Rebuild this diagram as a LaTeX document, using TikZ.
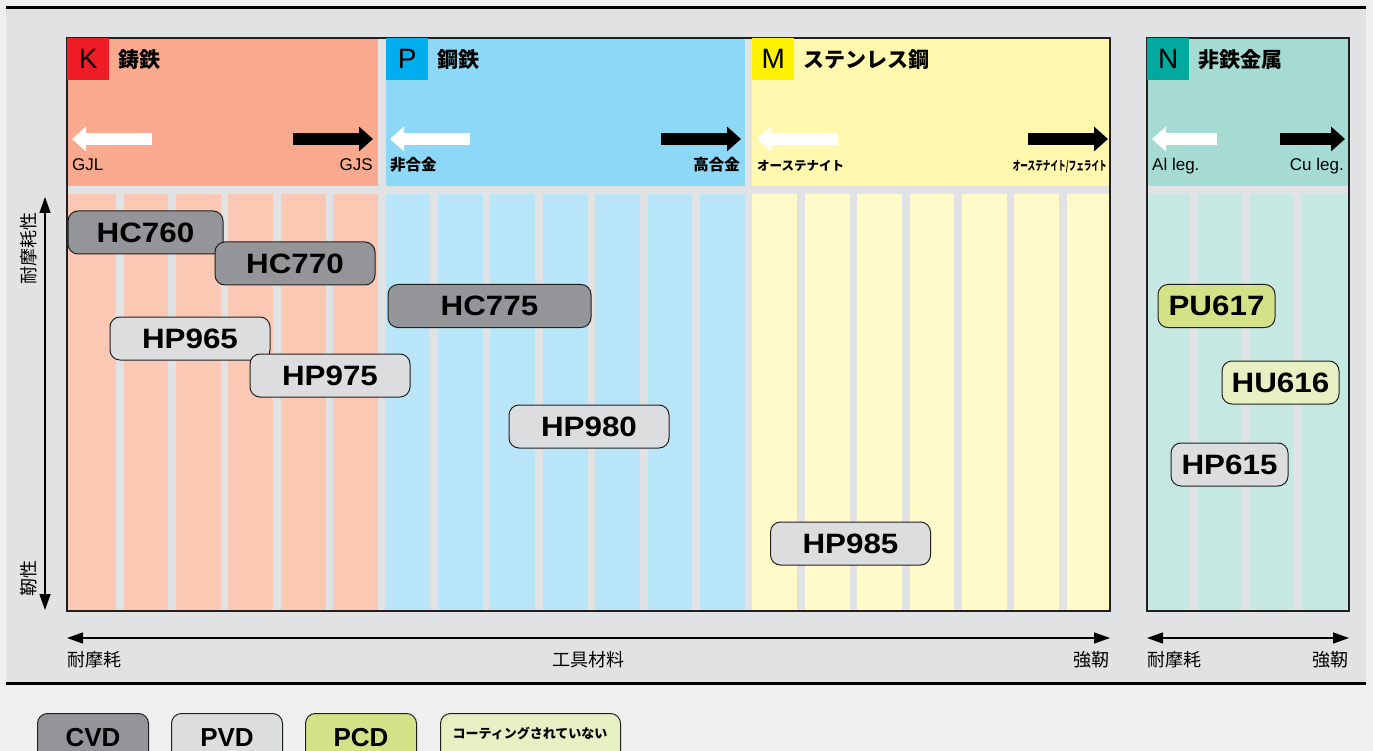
\documentclass[tikz,border=0pt]{standalone}
\usepackage{fontspec}
\usepackage{graphicx}
\usetikzlibrary{arrows.meta}
\setmainfont{Liberation Sans}
\newfontfamily\jp{Noto Sans CJK JP}
\newcommand{\fsz}[1]{\fontsize{#1}{#1}\selectfont}
\newcommand{\gr}[1]{\scalebox{1.12}[1]{#1}}
\definecolor{bgout}{HTML}{EFEFEF}
\definecolor{panel}{HTML}{E1E2E4}
\definecolor{khead}{HTML}{F9A98E}
\definecolor{klow}{HTML}{FBC9B3}
\definecolor{phead}{HTML}{8DD8F6}
\definecolor{plow}{HTML}{B9E5F9}
\definecolor{mhead}{HTML}{FFF8AE}
\definecolor{mlow}{HTML}{FFFAC8}
\definecolor{nhead}{HTML}{A5DBD3}
\definecolor{nlow}{HTML}{C5E8E2}
\definecolor{ksq}{HTML}{EE1C25}
\definecolor{psq}{HTML}{00AEEF}
\definecolor{msq}{HTML}{FFF200}
\definecolor{nsq}{HTML}{00A99D}
\definecolor{cvdc}{HTML}{939598}
\definecolor{pvdc}{HTML}{DCDDDF}
\definecolor{pcdc}{HTML}{D3E287}
\definecolor{uncc}{HTML}{E6F0C3}
\definecolor{edge}{HTML}{231F20}

\begin{document}
\begin{tikzpicture}[x=1pt, y=-1pt,
  grade/.style={draw=edge, line width=1pt, rounded corners=10pt, minimum width=160pt,
    minimum height=43pt, inner sep=0pt, font=\fsz{28}\bfseries},
  cvd/.style={grade, fill=cvdc}, pvd/.style={grade, fill=pvdc},
  pcd/.style={grade, fill=pcdc}, unc/.style={grade, fill=uncc},
  legbox/.style={minimum width=111pt, minimum height=48pt, font=\fsz{26}\bfseries},
  sq/.style={minimum size=42pt, inner sep=0pt, anchor=north west, font=\fsz{28}},
  hdtitle/.style={anchor=west, inner sep=0pt, font=\jp\bfseries\fsz{21}},
  lowlab/.style={anchor=base west, inner sep=0pt, font=\fsz{17}},
  jlab/.style={anchor=base west, inner sep=0pt, font=\jp\bfseries\fsz{15.5}},
  klab/.style={anchor=base west, inner sep=0pt, font=\jp\bfseries\fsz{12.5}},
  axlab/.style={inner sep=0pt, font=\jp\fsz{18}},
  fatl/.style={white, line width=12pt, -{Triangle[length=14pt,width=24pt]}},
  fatr/.style={black, line width=12pt, -{Triangle[length=14pt,width=24pt]}},
  axarrow/.style={black, line width=1.3pt,
    {Triangle[length=16pt,width=11pt]}-{Triangle[length=16pt,width=11pt]}}]
\useasboundingbox (0,0) rectangle (1373,751);
\clip (0,0) rectangle (1373,751);
\fill[bgout] (0,0) rectangle (1373,751);
\fill[panel] (6,8) rectangle (1366,683);
\draw[line width=3pt] (6,8) -- (1366,8);
\draw[line width=3pt] (6,683) -- (1366,683);

% material fields
\def\pitch{52.4}
\fill[khead] (67,38) rectangle (378,186);
\fill[klow] (67,194) rectangle (378,611);
\fill[phead] (385.5,38) rectangle (744.8,186);
\fill[plow] (385.5,194) rectangle (744.8,611);
\fill[mhead] (752.3,38) rectangle (1110,186);
\fill[mlow] (752.3,194) rectangle (1110,611);
\foreach \k in {0,...,18}
  \fill[panel] ({116+\pitch*\k},194) rectangle +(7.5,417);
\fill[nhead] (1147,38) rectangle (1349,186);
\fill[nlow] (1147,194) rectangle (1349,611);
\foreach \k in {0,1,2}
  \fill[panel] ({1190+51.5*\k},194) rectangle +(8,417);
\draw[edge, line width=1.2pt] (67,38) rectangle (1110,611);
\draw[edge, line width=1.2pt] (1147,38) rectangle (1349,611);

% headers
\node[sq, fill=ksq] (ksquare) at (67,38) {K};
\node[hdtitle] (ktitle) at (118,60) {鋳鉄};
\node[sq, fill=psq] (psquare) at (386,38) {P};
\node[hdtitle] (ptitle) at (437,60) {鋼鉄};
\node[sq, fill=msq] (msquare) at (752,38) {M};
\node[hdtitle] (mtitle) at (803,60) {ステンレス鋼};
\node[sq, fill=nsq] (nsquare) at (1147,38) {N};
\node[hdtitle] (ntitle) at (1198,60) {非鉄金属};

\draw[fatl] (152,139) -- (72,139);
\draw[fatr] (293,139) -- (373,139);
\draw[fatl] (470,139) -- (390,139);
\draw[fatr] (661,139) -- (741,139);
\draw[fatl] (838,139) -- (757,139);
\draw[fatr] (1028,139) -- (1108,139);
\draw[fatl] (1217,139) -- (1152,139);
\draw[fatr] (1280,139) -- (1345,139);

\node[lowlab] (gjl) at (72,171) {GJL};
\node[lowlab, anchor=base east] (gjs) at (373,171) {GJS};
\node[jlab] (unalloy) at (390,171) {非合金};
\node[jlab, anchor=base east] (highalloy) at (740,171) {高合金};
\node[klab] (aust) at (757,171) {オーステナイト};
\node[klab, anchor=base east] (austfer) at (1107,171) {\scalebox{0.61}[1]{オーステナイト/フェライト}};
\node[lowlab] (alleg) at (1152,171) {Al leg.};
\node[lowlab, anchor=base east] (culeg) at (1344,171) {Cu leg.};

% grades
\node[cvd, minimum width=155pt] (hc760) at (145.5,232.5) {\gr{HC760}};
\node[cvd] (hc770) at (295,263.5) {\gr{HC770}};
\node[pvd] (hp965) at (190,338.5) {\gr{HP965}};
\node[pvd] (hp975) at (330,375.5) {\gr{HP975}};
\node[cvd, minimum width=203pt] (hc775) at (489.5,306) {\gr{HC775}};
\node[pvd] (hp980) at (589,426.5) {\gr{HP980}};
\node[pvd] (hp985) at (850.5,543.5) {\gr{HP985}};
\node[pcd, minimum width=117pt] (pu617) at (1216.5,306) {\gr{PU617}};
\node[unc, minimum width=117pt] (hu616) at (1280.5,382.5) {\gr{HU616}};
\node[pvd, minimum width=117pt] (hp615) at (1229.5,464.5) {\gr{HP615}};

% axes
\coordinate (vtop) at (45,197);
\coordinate (vbot) at (45,610);
\draw[axarrow] (vtop) -- (vbot);
\node[axlab, rotate=90, anchor=east] (wear) at (29,212) {耐摩耗性};
\node[axlab, rotate=90, anchor=west] (tough) at (29,597) {靭性};
\coordinate (hleft) at (67,638);
\coordinate (hright) at (1110,638);
\draw[axarrow] (hleft) -- (hright);
\coordinate (nleft) at (1147,638);
\coordinate (nright) at (1349,638);
\draw[axarrow] (nleft) -- (nright);
\node[axlab, anchor=west] (hwear) at (67,660) {耐摩耗};
\node[axlab] (tool) at (588,660) {工具材料};
\node[axlab, anchor=east] (htough) at (1110,660) {強靭};
\node[axlab, anchor=west] (nwear) at (1147,660) {耐摩耗};
\node[axlab, anchor=east] (ntough) at (1349,660) {強靭};

% legend
\node[cvd, legbox, anchor=north west] (lcvd) at (37,713) {CVD};
\node[pvd, legbox, anchor=north west] (lpvd) at (171,713) {PVD};
\node[pcd, legbox, anchor=north west] (lpcd) at (305,713) {PCD};
\node[unc, legbox, minimum width=180pt, anchor=north west] (lunc) at (440,713) {};
\node[inner sep=0pt, font=\jp\bfseries\fsz{13}] (luncl) at (530,733) {コーティングされていない};
\end{tikzpicture}
\end{document}
